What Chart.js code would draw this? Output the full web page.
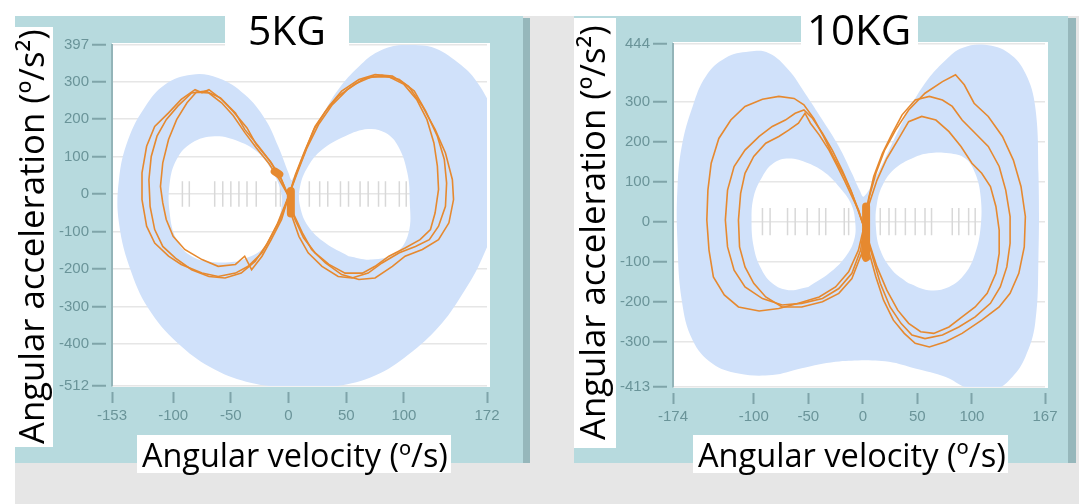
<!DOCTYPE html>
<html>
<head>
<meta charset="utf-8">
<title>5KG / 10KG</title>
<script src="https://cdn.jsdelivr.net/npm/chart.js@4.4.1/dist/chart.umd.min.js"></script>
<style>
  html, body { margin: 0; padding: 0; background: #fff; }
  body { width: 1079px; height: 504px; position: relative; overflow: hidden; font-family: 'Open Sans', sans-serif; }
  .abs { position: absolute; }
  .frame { background: #b7dade; }
  .edge { background: #96b7bb; }
  .box { background: #fff; }
  .lbl { position: absolute; white-space: nowrap; line-height: 1; color: #000; }
  .rot { transform-origin: 0 0; transform: rotate(-90deg); }
  .bl { display: inline-block; width: 0; height: 0; vertical-align: baseline; }
  canvas { position: absolute; }
</style>
</head>
<body>
<div class="abs" style="left:15px;top:16px;width:1064px;height:488px;background:#e6e6e6"></div>

<div class="abs frame" style="left:15px;top:16px;width:508px;height:447px"></div>
<div class="abs edge" style="left:523px;top:18px;width:7px;height:445px"></div>
<div class="abs frame" style="left:574px;top:16px;width:494px;height:447px"></div>
<div class="abs edge" style="left:1068px;top:18px;width:8px;height:445px"></div>

<canvas id="c5" width="508" height="447" style="left:15px;top:16px"></canvas>
<canvas id="c10" width="494" height="447" style="left:574px;top:16px"></canvas>

<div class="abs box" style="left:15px;top:27px;width:38px;height:420px"></div>
<div class="abs box" style="left:225px;top:16px;width:124px;height:30px"></div>
<div class="abs box" style="left:137px;top:435px;width:314px;height:38px"></div>
<div class="abs box" style="left:574px;top:18px;width:42px;height:430px"></div>
<div class="abs box" style="left:801px;top:16px;width:117px;height:30px"></div>
<div class="abs box" style="left:693px;top:435px;width:315px;height:38px"></div>

<span id="yt5" class="lbl rot">Angular acceleration (º/s²)<i class="bl"></i></span>
<span id="t5" class="lbl">5KG<i class="bl"></i></span>
<span id="xt5" class="lbl">Angular velocity (º/s)<i class="bl"></i></span>
<span id="yt10" class="lbl rot">Angular acceleration (º/s²)<i class="bl"></i></span>
<span id="t10" class="lbl">10KG<i class="bl"></i></span>
<span id="xt10" class="lbl">Angular velocity (º/s)<i class="bl"></i></span>

<script>
// ---------- 5KG panel ----------
const xTicks5 = [-153, -100, -50, 0, 50, 100, 172];
const yTicks5 = [-512, -400, -300, -200, -100, 0, 100, 200, 300, 397];

// light blue band (outer edge, then the two white holes)
const band5Outer = [[3,-518],[-32,-504],[-64,-468],[-93,-406],[-119,-317],[-136,-211],[-147,-77],[-147,38],
  [-139,145],[-124,234],[-107,292],[-84,318],[-61,309],[-38,265],[-20,198],[-9,127],[0,56],[3,38],
  [14,118],[29,207],[43,278],[61,340],[78,380],[101,398],[124,392],[147,350],[163,300],[176,220],
  [180,100],[180,-60],[168,-170],[150,-270],[130,-355],[104,-428],[75,-484],[40,-513]];
const band5HoleL = [[-64,154],[-43,140],[-26,109],[-15,65],[-7,12],[-6,-33],[-12,-95],[-23,-148],
  [-43,-180],[-64,-182],[-84,-166],[-97,-122],[-103,-51],[-103,29],[-97,92],[-84,136]];
const band5HoleR = [[69,173],[49,154],[29,118],[17,74],[10,20],[10,-33],[17,-86],[32,-131],
  [52,-166],[72,-175],[93,-157],[104,-104],[105,-15],[103,56],[95,127],[84,163]];

// faint marks along the zero line
const zeroMarks5 = [-92,-86,-64,-57,-50,-43,-36,-28,-11,-7,18,27,34,45,52,62,69,78,84,96,102];

// three recorded cycles
const loop5A = [[0,-6],[7,56],[15,118],[23,180],[35,234],[46,274],[61,305],[75,318],[90,314],[104,287],
  [116,234],[127,172],[136,109],[142,38],[143,-15],[139,-77],[130,-122],[116,-148],[101,-166],[90,-193],
  [75,-224],[61,-228],[46,-215],[32,-184],[20,-148],[12,-104],[4,-51],[0,-6],
  [-6,38],[-15,83],[-26,127],[-38,172],[-46,216],[-58,252],[-69,278],[-75,270],[-81,278],[-93,252],
  [-104,216],[-116,180],[-123,127],[-127,56],[-127,-15],[-123,-86],[-116,-131],[-104,-166],[-93,-188],
  [-75,-211],[-61,-220],[-46,-211],[-35,-193],[-23,-157],[-15,-113],[-6,-60],[0,-6]];
const loop5B = [[0,-6],[8,60],[16,123],[26,185],[38,238],[51,278],[65,307],[81,316],[96,305],[109,274],
  [119,220],[129,154],[135,92],[137,29],[136,-33],[130,-86],[122,-122],[110,-140],[96,-157],[81,-184],
  [69,-211],[55,-224],[43,-220],[29,-193],[17,-157],[9,-113],[3,-60],[0,-6],
  [-7,43],[-16,87],[-28,132],[-36,176],[-48,220],[-59,256],[-72,274],[-84,269],[-96,234],[-106,198],
  [-114,154],[-119,100],[-121,38],[-120,-33],[-116,-95],[-109,-140],[-98,-171],[-84,-202],[-69,-220],
  [-55,-224],[-41,-211],[-29,-180],[-19,-135],[-10,-82],[0,-6]];
const loop5C = [[0,-6],[6,52],[14,114],[22,172],[32,220],[43,260],[58,294],[72,312],[87,312],[100,292],
  [111,252],[120,198],[126,136],[129,74],[130,12],[127,-51],[123,-95],[114,-122],[101,-144],[87,-166],
  [75,-193],[64,-211],[49,-211],[35,-188],[23,-157],[13,-117],[5,-64],[0,-6],
  [-8,38],[-17,81],[-28,123],[-38,164],[-48,209],[-58,243],[-69,269],[-80,271],[-88,243],[-97,198],
  [-104,145],[-109,83],[-111,20],[-109,-24],[-106,-68],[-100,-113],[-90,-148],[-75,-175],[-61,-193],
  [-46,-188],[-38,-166],[-32,-202],[-23,-166],[-15,-122],[-6,-68],[0,-6]];
// dense clusters near the crossing
const core5 = [[[-12,60],[-8,52]], [[2,8],[2,-52]]];

// ---------- 10KG panel ----------
const xTicks10 = [-174, -100, -50, 0, 50, 100, 167];
const yTicks10 = [-413, -300, -200, -100, 0, 100, 200, 300, 444];

const band10Outer = [[-1,-346],[-25,-350],[-56,-366],[-83,-383],[-114,-379],[-138,-354],[-156,-296],
  [-166,-196],[-170,-46],[-170,79],[-166,188],[-156,288],[-144,363],[-126,409],[-104,425],[-86,421],
  [-68,379],[-53,321],[-37,254],[-22,188],[-10,121],[-3,79],[1,63],[12,113],[24,179],[39,263],
  [57,346],[76,404],[91,434],[112,442],[134,421],[149,371],[158,288],[161,121],[161,-88],[158,-254],
  [149,-338],[137,-388],[122,-418],[97,-416],[76,-388],[48,-367],[24,-350]];
const band10HoleL = [[-68,158],[-50,146],[-34,121],[-22,88],[-11,46],[-7,0],[-8,-46],[-16,-88],
  [-31,-129],[-50,-163],[-68,-171],[-83,-154],[-94,-113],[-100,-63],[-102,0],[-100,63],[-92,113],[-82,146]];
const band10HoleR = [[79,171],[94,158],[103,121],[108,63],[108,-13],[103,-79],[94,-129],[79,-163],
  [60,-171],[42,-154],[27,-121],[16,-71],[12,-13],[13,46],[19,96],[30,134],[45,158],[60,171]];

const zeroMarks10 = [-92,-85,-69,-62,-51,-40,-34,-17,-13,16,24,30,39,48,57,63,82,88,97,103];

const loop10A = [[1,-13],[6,63],[12,121],[20,179],[30,229],[42,279],[57,321],[73,350],[85,367],[93,342],
  [102,296],[115,263],[128,213],[138,154],[145,88],[149,13],[148,-63],[143,-129],[135,-179],[125,-213],
  [109,-246],[91,-279],[76,-300],[61,-313],[48,-304],[38,-279],[28,-246],[19,-196],[12,-138],[6,-79],[1,-13],
  [-4,29],[-10,71],[-17,113],[-27,163],[-36,213],[-45,258],[-54,292],[-63,308],[-77,313],[-92,306],
  [-108,288],[-121,254],[-132,208],[-139,146],[-142,79],[-143,4],[-141,-71],[-137,-138],[-127,-183],
  [-114,-213],[-95,-223],[-77,-217],[-59,-204],[-40,-188],[-25,-163],[-13,-125],[-4,-71],[1,-13]];
const loop10B = [[1,-13],[5,54],[10,113],[18,171],[27,221],[36,267],[48,304],[61,313],[73,304],[82,288],
  [91,254],[103,221],[115,188],[125,138],[131,79],[135,13],[135,-54],[132,-113],[126,-163],[117,-204],
  [103,-238],[88,-263],[73,-283],[57,-292],[45,-283],[35,-254],[25,-213],[16,-154],[9,-88],[1,-13],
  [-5,33],[-11,79],[-19,129],[-28,179],[-37,221],[-46,258],[-54,279],[-62,271],[-71,254],[-83,238],
  [-95,213],[-108,179],[-118,138],[-124,79],[-126,4],[-124,-63],[-118,-121],[-108,-163],[-92,-192],
  [-74,-208],[-56,-204],[-37,-192],[-22,-167],[-10,-129],[-2,-71],[1,-13]];
const loop10C = [[1,-13],[6,46],[13,104],[22,158],[33,208],[42,250],[54,263],[67,254],[79,225],[90,188],
  [100,146],[109,121],[117,88],[122,38],[125,-21],[125,-79],[122,-129],[114,-179],[103,-213],[91,-238],
  [79,-263],[65,-279],[53,-275],[42,-254],[32,-221],[22,-171],[13,-113],[6,-54],[1,-13],
  [-4,29],[-10,63],[-17,104],[-24,142],[-31,179],[-40,217],[-48,246],[-53,271],[-59,246],[-68,229],
  [-77,213],[-89,196],[-100,163],[-108,121],[-112,71],[-114,4],[-113,-63],[-108,-113],[-100,-154],
  [-89,-188],[-74,-213],[-56,-213],[-37,-200],[-22,-179],[-10,-142],[-1,-79],[1,-13]];
const core10 = [[[3,38],[3,-78]], [[2,-84],[3,-90]]];

const MARK_HALF = 34;   // half height of the zero-line marks, in data units

// ---------- drawing ----------
const ORANGE = '#e6892f';
const BAND = '#d0e1fa';
const TICK_TEXT = '#6a9499';
const TICK_MARK = '#7fa4a9';

Chart.defaults.font.family = "'Liberation Sans', Arial, sans-serif";

const pts = arr => arr.map(([x, y]) => ({ x, y }));

// outer edge with the holes cut out (joined by zero-width bridges)
function bandPath(outer, holes) {
  const area = a => a.reduce((s, p, i) => {
    const q = a[(i + 1) % a.length];
    return s + p[0] * q[1] - q[0] * p[1];
  }, 0);
  const dir = Math.sign(area(outer));
  const p0 = outer[0];
  const out = outer.concat([p0]);
  holes.forEach(h => {
    let ring = Math.sign(area(h)) === dir ? h.slice().reverse() : h.slice();
    let k = 0, best = Infinity;
    ring.forEach((q, i) => {
      const d = (q[0] - p0[0]) ** 2 + ((q[1] - p0[1]) / 3) ** 2;
      if (d < best) { best = d; k = i; }
    });
    ring = ring.slice(k).concat(ring.slice(0, k));
    out.push(p0, ring[0], ...ring, ring[0], ring[0], p0, p0);
  });
  return pts(out);
}

function markPoints(xs) {
  const out = [];
  xs.forEach(x => out.push({ x, y: -MARK_HALF }, { x, y: MARK_HALF }, { x, y: null }));
  return out;
}

const plotBg = {
  id: 'plotBg',
  beforeDraw(chart) {
    const { ctx, chartArea: a } = chart;
    ctx.save();
    ctx.fillStyle = '#ffffff';
    ctx.fillRect(a.left, a.top - 2, a.right - a.left + 3, a.bottom - a.top + 3);
    ctx.restore();
  }
};

function buildChart(id, p) {
  const datasets = [];
  p.core.forEach(c => datasets.push({
    data: pts(c), borderColor: ORANGE, borderWidth: 8, borderCapStyle: 'round', order: 0
  }));
  p.loops.forEach(l => datasets.push({
    data: pts(l), borderColor: ORANGE, borderWidth: 1.6, order: 1
  }));
  datasets.push({
    data: bandPath(p.outer, p.holes), fill: 'shape', backgroundColor: BAND,
    borderColor: 'rgba(0,0,0,0)', borderWidth: 0, tension: 0.4, order: 5
  });
  datasets.push({
    data: markPoints(p.marks), borderColor: '#d8d8d8', borderWidth: 1.5, order: 6
  });
  datasets.forEach(d => { d.showLine = true; d.pointRadius = 0; if (d.fill === undefined) d.fill = false; });

  return new Chart(document.getElementById(id), {
    type: 'scatter',
    data: { datasets },
    options: {
      responsive: false,
      animation: false,
      devicePixelRatio: 1,
      events: [],
      layout: { padding: { top: p.padTop, right: p.padRight, left: 0, bottom: 0 } },
      plugins: { legend: { display: false }, tooltip: { enabled: false } },
      scales: {
        x: {
          type: 'linear', min: p.xTicks[0], max: p.xTicks[p.xTicks.length - 1],
          afterBuildTicks: s => { s.ticks = p.xTicks.map(v => ({ value: v })); },
          afterFit: s => { s.height = p.xAxisH; },
          ticks: { autoSkip: false, maxRotation: 0, padding: 4, color: TICK_TEXT, font: { size: 15 }, callback: v => String(v) },
          grid: { drawOnChartArea: false, tickLength: 17, tickWidth: 2, tickColor: TICK_MARK, tickBorderDash: [0, 6, 11, 40] },
          border: { display: false }
        },
        y: {
          type: 'linear', min: p.yTicks[0], max: p.yTicks[p.yTicks.length - 1],
          afterBuildTicks: s => { s.ticks = p.yTicks.map(v => ({ value: v })); },
          afterFit: s => { s.width = p.yAxisW; },
          ticks: { autoSkip: false, padding: 3, color: TICK_TEXT, font: { size: 15 }, callback: v => String(v) },
          grid: { color: '#e6e6e6', lineWidth: 1.5, tickLength: 20, tickWidth: 2, tickColor: TICK_MARK, tickBorderDash: [14, 40] },
          border: { color: '#93b4b8', width: 2 }
        }
      }
    },
    plugins: [plotBg]
  });
}

buildChart('c5', {
  xTicks: xTicks5, yTicks: yTicks5, outer: band5Outer, holes: [band5HoleL, band5HoleR],
  marks: zeroMarks5, loops: [loop5A, loop5B, loop5C], core: core5,
  padTop: 29, padRight: 36, xAxisH: 77, yAxisW: 97
});
buildChart('c10', {
  xTicks: xTicks10, yTicks: yTicks10, outer: band10Outer, holes: [band10HoleL, band10HoleR],
  marks: zeroMarks10, loops: [loop10A, loop10B, loop10C], core: core10,
  padTop: 28, padRight: 23, xAxisH: 76, yAxisW: 99
});

// ---------- boxed titles ----------
function sizeTo(el, width) {
  el.style.fontSize = '100px';
  const f = 100 * width / el.offsetWidth;
  el.style.fontSize = f.toFixed(2) + 'px';
  return el.querySelector('.bl').offsetTop;
}
function flat(id, width, cx, baseY) {
  const el = document.getElementById(id);
  const b = sizeTo(el, width);
  el.style.left = (cx - el.offsetWidth / 2) + 'px';
  el.style.top = (baseY - b) + 'px';
}
function upright(id, width, baseX, cy) {
  const el = document.getElementById(id);
  const b = sizeTo(el, width);
  el.style.left = (baseX - b) + 'px';
  el.style.top = (cy + el.offsetWidth / 2) + 'px';
}
upright('yt5', 415, 44, 236);
upright('yt10', 415, 605, 232);
flat('t5', 78, 287, 45);
flat('t10', 104, 859, 45);
flat('xt5', 306, 295, 467);
flat('xt10', 308, 852, 467);
</script>
</body>
</html>
